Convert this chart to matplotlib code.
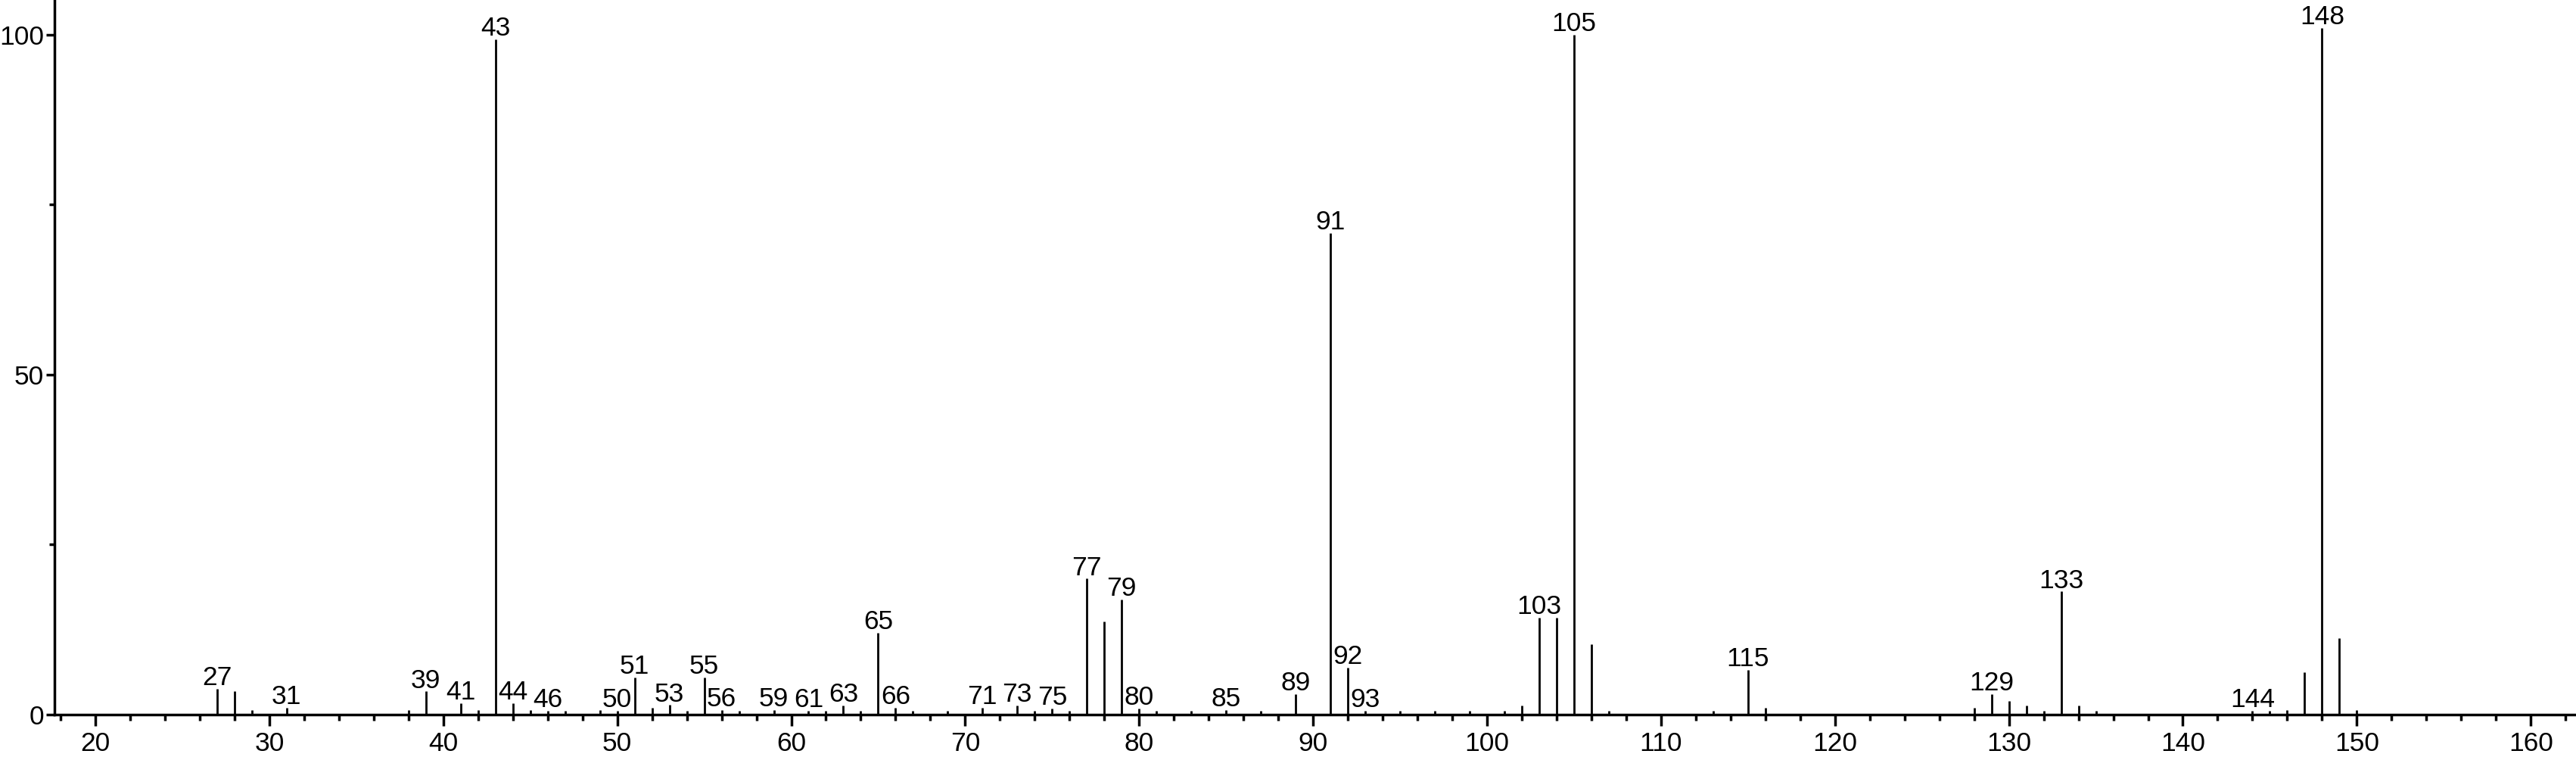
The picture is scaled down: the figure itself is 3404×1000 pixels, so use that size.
import matplotlib.pyplot as plt
from matplotlib.ticker import MultipleLocator

plt.rcParams['font.family'] = ['Liberation Sans', 'DejaVu Sans']

mz = [27, 28, 29, 31, 38, 39, 41, 42, 43, 44, 45, 46, 47, 49, 50, 51, 52, 53, 54,
      55, 56, 57, 59, 61, 62, 63, 64, 65, 66, 67, 69, 71, 73, 74, 75, 76, 77, 78,
      79, 80, 81, 83, 85, 87, 89, 91, 92, 93, 95, 97, 99, 101, 102, 103, 104, 105,
      106, 107, 113, 115, 116, 128, 129, 130, 131, 132, 133, 134, 135, 144, 145,
      146, 147, 148, 149, 150]
intensidad = [3.8, 3.4, 0.7, 1.0, 0.7, 3.4, 1.7, 0.7, 99.3, 1.7, 0.7, 0.6, 0.6,
              0.7, 0.6, 5.5, 1.0, 1.4, 0.6, 5.5, 0.7, 0.6, 0.7, 0.6, 0.6, 1.3, 0.6,
              12.0, 1.0, 0.6, 0.6, 1.0, 1.3, 0.6, 0.9, 0.6, 20.0, 13.7, 16.9, 0.9,
              0.6, 0.6, 0.7, 0.6, 3.0, 70.8, 6.9, 0.6, 0.6, 0.6, 0.6, 0.6, 1.3, 14.3,
              14.3, 100.0, 10.4, 0.6, 0.6, 6.6, 1.0, 1.0, 3.0, 2.0, 1.3, 0.6, 18.1,
              1.3, 0.6, 0.6, 0.6, 0.7, 6.2, 101.0, 11.2, 0.7]

# picos etiquetados
etiquetas = [27, 31, 39, 41, 43, 44, 46, 50, 51, 53, 55, 56, 59, 61, 63, 65, 66,
             71, 73, 75, 77, 79, 80, 85, 89, 91, 92, 93, 103, 105, 115, 129, 133,
             144, 148]

fig = plt.figure(figsize=(34.04, 10), dpi=100)
ax = fig.add_axes([72 / 3404, 56 / 1000, 1 - 72 / 3404, 944 / 1000])

ax.vlines(mz, 0, intensidad, color='black', linewidth=2)

alturas = dict(zip(mz, intensidad))
for m in etiquetas:
    ax.annotate(str(m), (m, alturas[m]), xytext=(0, 3.5), textcoords='offset points',
                ha='center', va='baseline', fontsize=25.5)

ax.set_xlim(17.65, 162.6)
ax.set_ylim(0, 105.1)

ax.xaxis.set_major_locator(MultipleLocator(10))
ax.xaxis.set_minor_locator(MultipleLocator(2))
ax.yaxis.set_major_locator(MultipleLocator(50))
ax.yaxis.set_minor_locator(MultipleLocator(25))

ax.tick_params(axis='x', which='major', length=11, width=2.5, labelsize=25.5, pad=5)
ax.tick_params(axis='x', which='minor', length=6, width=2.5)
ax.tick_params(axis='y', which='major', length=8, width=2.5, labelsize=25.5, pad=2)
ax.tick_params(axis='y', which='minor', length=5, width=2.5)

for lado in ['top', 'right']:
    ax.spines[lado].set_visible(False)
for lado in ['left', 'bottom']:
    ax.spines[lado].set_linewidth(2.5)

fig.savefig('out.png', dpi=100)
